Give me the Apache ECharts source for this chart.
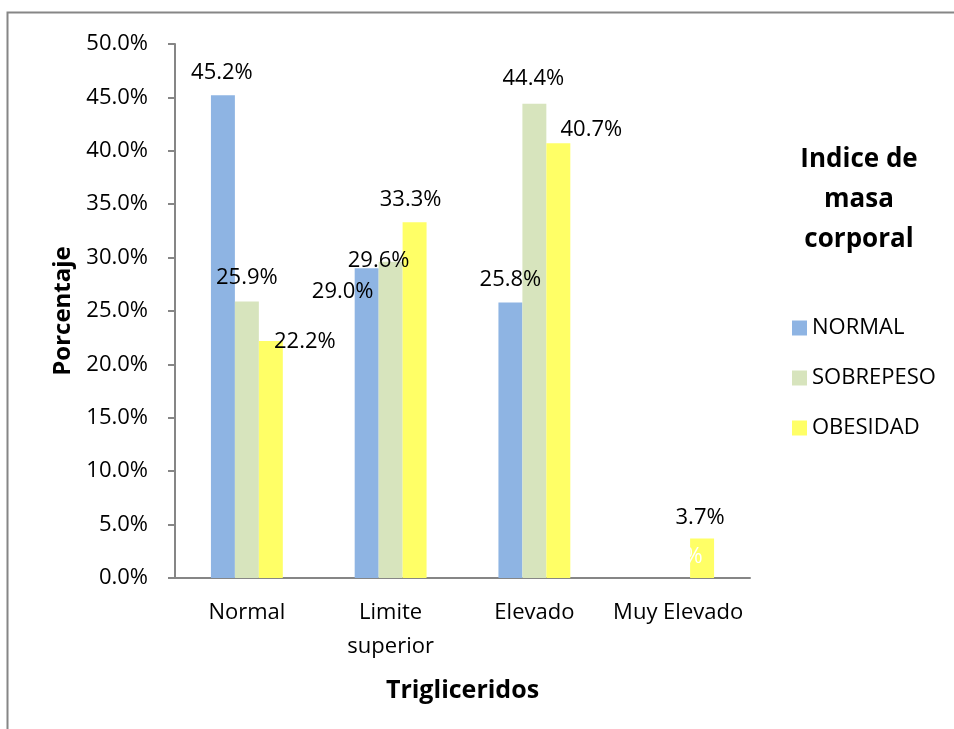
<!DOCTYPE html>
<html>
<head>
<meta charset="utf-8">
<script src="https://cdn.jsdelivr.net/npm/echarts@6/dist/echarts.min.js"></script>
<style>
html,body{margin:0;padding:0;background:#fff;}
#chart{width:954px;height:729px;}
</style>
</head>
<body>
<div id="chart"></div>
<script>
// ---- data ----
var categories = ['Normal', 'Limite\nsuperior', 'Elevado', 'Muy Elevado'];
var seriesNames = ['NORMAL', 'SOBREPESO', 'OBESIDAD'];
var normalValues = [45.2, 29.0, 25.8, 0.0];
var sobrepesoValues = [25.9, 29.6, 44.4, 0.0];
var obesidadValues = [22.2, 33.3, 40.7, 3.7];
var yTicks = [0, 5, 10, 15, 20, 25, 30, 35, 40, 45, 50];

// ---- label placement (layout only) ----
var labelOffsets = [
  [[-1, -7], [-24, 39], [0, -7], [0, 0]],
  [[0, -8], [-12, 15], [-1, -9], [0, -5]],
  [[34, 17], [-4, -7], [33, 2], [-2, -5]]
];
var labelColors = [
  ['#000', '#000', '#000', '#fff'],
  ['#000', '#000', '#000', '#fff'],
  ['#000', '#000', '#000', '#000']
];
var colors = ['#8EB4E3', '#D7E4BD', '#FFFF66'];
var FONT = '"Open Sans", "Liberation Sans", sans-serif';

var allValues = [normalValues, sobrepesoValues, obesidadValues];

function makeSeries(i) {
  return {
    name: seriesNames[i],
    type: 'bar',
    barGap: '0%',
    barCategoryGap: '50%',
    itemStyle: { color: colors[i] },
    data: allValues[i].map(function (v, j) {
      return {
        value: v,
        label: {
          show: true,
          position: 'top',
          offset: labelOffsets[i][j],
          color: labelColors[i][j],
          fontFamily: FONT,
          fontSize: 22,
          formatter: function (p) { return p.value.toFixed(1) + '%'; }
        }
      };
    })
  };
}

var chart = echarts.init(document.getElementById('chart'), null, { renderer: 'canvas' });
chart.setOption({
  animation: false,
  backgroundColor: '#fff',
  textStyle: { fontFamily: FONT },
  grid: { left: 175, right: 204, top: 44, bottom: 151, containLabel: false },
  legend: {
    orient: 'vertical',
    left: 792,
    top: 317,
    padding: 0,
    itemWidth: 15,
    itemHeight: 15,
    itemGap: 28,
    icon: 'rect',
    textStyle: { fontFamily: FONT, fontSize: 22, color: '#000' },
    data: seriesNames
  },
  xAxis: {
    type: 'category',
    data: categories,
    axisLine: { lineStyle: { color: '#868686', width: 2 } },
    axisTick: { show: false },
    axisLabel: { interval: 0, color: '#000', fontFamily: FONT, fontSize: 22, lineHeight: 34, margin: 18 },
    name: 'Trigliceridos',
    nameLocation: 'middle',
    nameGap: 100,
    nameTextStyle: { color: '#000', fontFamily: FONT, fontSize: 25, fontWeight: 'bold' }
  },
  yAxis: {
    type: 'value',
    min: yTicks[0],
    max: yTicks[yTicks.length - 1],
    interval: yTicks[1] - yTicks[0],
    splitLine: { show: false },
    axisLine: { show: true, lineStyle: { color: '#868686', width: 2 } },
    axisTick: { show: true, length: 7, lineStyle: { color: '#868686', width: 2 } },
    axisLabel: {
      color: '#000', fontFamily: FONT, fontSize: 22, margin: 27,
      formatter: function (v) { return v.toFixed(1) + '%'; }
    },
    name: 'Porcentaje',
    nameLocation: 'middle',
    nameGap: 100,
    nameRotate: 90,
    nameTextStyle: { color: '#000', fontFamily: FONT, fontSize: 24, fontWeight: 'bold' }
  },
  graphic: [
    {
      type: 'rect',
      shape: { x: 7.5, y: 12.5, width: 1000, height: 1000 },
      style: { fill: 'none', stroke: '#868686', lineWidth: 2 },
      silent: true,
      z: 100
    },
    {
      type: 'text',
      x: 859,
      y: 140,
      style: {
        text: 'Indice de\nmasa\ncorporal',
        textAlign: 'center',
        textVerticalAlign: 'top',
        fontFamily: FONT,
        fontSize: 26,
        fontWeight: 'bold',
        lineHeight: 40,
        fill: '#000'
      }
    }
  ],
  series: [makeSeries(0), makeSeries(1), makeSeries(2)]
});
</script>
</body>
</html>
